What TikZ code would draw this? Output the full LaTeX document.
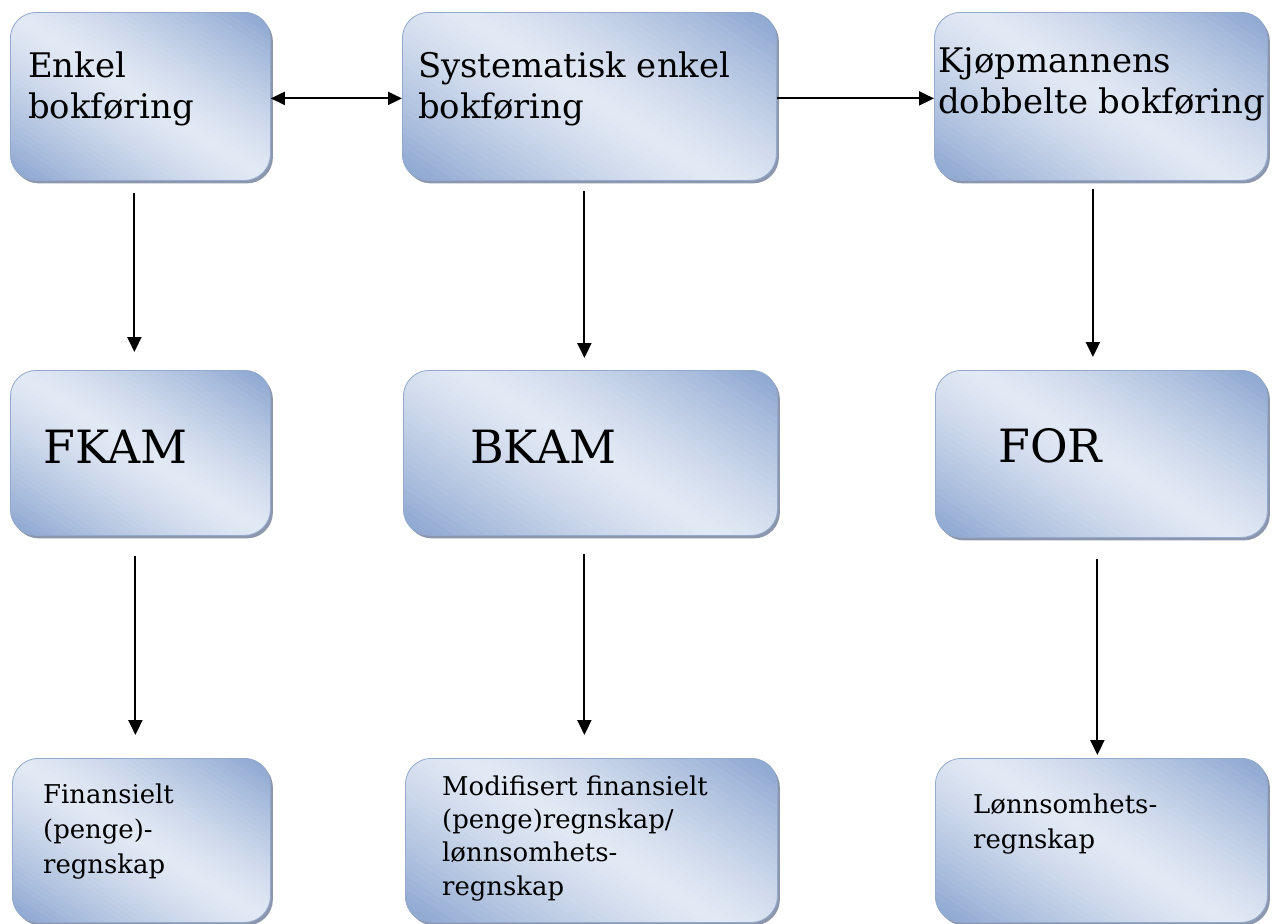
\documentclass[tikz,border=0pt]{standalone}
\usepackage{fontspec}
\setmainfont{DejaVu Serif}
\usetikzlibrary{arrows.meta}

\definecolor{boxblue}{RGB}{136,163,207}
\definecolor{boxlight}{RGB}{226,233,244}
\definecolor{boxedge}{RGB}{148,170,205}
\definecolor{boxshadow}{RGB}{140,150,172}

% diagonal blue-light-blue gradient, built from thin slanted strips;
% u is the gradient axis (towards the upper right), d runs along a strip
\newcommand{\stagegradient}{%
  \pgfpointdiff{\pgfpointanchor{path picture bounding box}{south west}}%
               {\pgfpointanchor{path picture bounding box}{north east}}%
  \pgfgetlastxy{\stagew}{\stageh}%
  \pgfmathsetmacro\stageext{0.5*(\stagew*0.545+\stageh*0.839)}%
  \pgfmathsetmacro\stagestep{2*\stageext/60}%
  \begin{scope}[x=1pt, y=1pt, shift={(path picture bounding box.center)}]
    \foreach \k in {0,...,59}{%
      \pgfmathsetmacro\ylo{-\stageext+\k*\stagestep}%
      \pgfmathsetmacro\yhi{\ylo+\stagestep+0.6}%
      \pgfmathsetmacro\mixv{100*(abs(2*(\k+0.5)/60-1))^1.3}%
      \pgfmathsetmacro\pax{\ylo*0.545-260*0.839}\pgfmathsetmacro\pay{\ylo*0.839+260*0.545}%
      \pgfmathsetmacro\pbx{\ylo*0.545+260*0.839}\pgfmathsetmacro\pby{\ylo*0.839-260*0.545}%
      \pgfmathsetmacro\pcx{\yhi*0.545+260*0.839}\pgfmathsetmacro\pcy{\yhi*0.839-260*0.545}%
      \pgfmathsetmacro\pdx{\yhi*0.545-260*0.839}\pgfmathsetmacro\pdy{\yhi*0.839+260*0.545}%
      \fill[boxblue!\mixv!boxlight] (\pax,\pay) -- (\pbx,\pby) -- (\pcx,\pcy) -- (\pdx,\pdy) -- cycle;
    }
  \end{scope}%
}

\tikzset{
  stage/.style={
    rectangle, rounded corners=26bp, inner sep=0pt, anchor=north west,
    draw=boxedge, line width=0.8bp, fill=boxblue,
    preaction={fill=boxshadow, transform canvas={xshift=2.5bp, yshift=-3bp}},
    path picture={\stagegradient}
  },
  headtext/.style={anchor=base west, inner sep=0pt, align=left,
                   font=\fontsize{34}{41}\selectfont},
  bigtext/.style={anchor=base west, inner sep=0pt,
                  font=\fontsize{46}{50}\selectfont},
  smalltext/.style={anchor=base west, inner sep=0pt, align=left,
                    font=\fontsize{26}{34}\selectfont},
  arr/.style={line width=2bp, -{Triangle[length=15bp,width=14bp]}},
  darr/.style={line width=2bp, {Triangle[length=14bp,width=13bp]}-{Triangle[length=14bp,width=13bp]}}
}

\begin{document}
\begin{tikzpicture}[x=1bp,y=-1bp]
\useasboundingbox (0,0) rectangle (1273,924);

% top row: bookkeeping methods
\node[stage, minimum width=260bp, minimum height=168bp] (A) at (10,12) {};
\node[stage, minimum width=374bp, minimum height=168bp] (B) at (402,12) {};
\node[stage, minimum width=333bp, minimum height=168bp] (C) at (934,12) {};

% middle row: models
\node[stage, minimum width=260bp, minimum height=165bp] (D) at (10,370) {};
\node[stage, minimum width=374bp, minimum height=165bp] (E) at (403,370) {};
\node[stage, minimum width=332bp, minimum height=167bp] (F) at (935,370) {};

% bottom row: kinds of accounts
\node[stage, minimum width=258bp, minimum height=164bp] (G) at (12,758) {};
\node[stage, minimum width=372bp, minimum height=164bp] (H) at (405,758) {};
\node[stage, minimum width=332bp, minimum height=164bp] (I) at (935,758) {};

% labels (multi-line labels are placed by the baseline of their last line)
\node[headtext] (tA) at (28,118) {Enkel\\bokføring};
\node[headtext] (tB) at (418,118) {Systematisk enkel\\bokføring};
\node[headtext] (tC) at (938,113) {Kjøpmannens\\dobbelte bokføring};

\node[bigtext] (tD) at (43,463) {FKAM};
\node[bigtext] (tE) at (470,463) {BKAM};
\node[bigtext] (tF) at (998,462) {FOR};

\node[smalltext, font=\fontsize{26}{35}\selectfont] (tG) at (43,873) {Finansielt\\(penge)-\\regnskap};
\node[smalltext, font=\fontsize{26}{33.3}\selectfont] (tH) at (442,895) {Modifisert finansielt\\(penge)regnskap/\\lønnsomhets-\\regnskap};
\node[smalltext, font=\fontsize{26}{35}\selectfont] (tI) at (973,848) {Lønnsomhets-\\regnskap};

% horizontal connections
\draw[darr] ([yshift=-2bp]A.east) -- ([yshift=-2bp]B.west);
\draw[arr] ([yshift=-2bp]B.east) -- ([yshift=-2bp]C.west);

% vertical connections, top to middle
\draw[arr, shorten <=12bp, shorten >=18bp] ([xshift=-6bp]A.south) -- ([xshift=-6bp]A.south |- D.north);
\draw[arr, shorten <=10bp, shorten >=12bp] ([xshift=-5bp]B.south) -- ([xshift=-5bp]B.south |- E.north);
\draw[arr, shorten <=8bp, shorten >=13bp] ([xshift=-8bp]C.south) -- ([xshift=-8bp]C.south |- F.north);

% vertical connections, middle to bottom
\draw[arr, shorten <=20bp, shorten >=23bp] ([xshift=-5bp]D.south) -- ([xshift=-5bp]D.south |- G.north);
\draw[arr, shorten <=18bp, shorten >=23bp] ([xshift=-6bp]E.south) -- ([xshift=-6bp]E.south |- H.north);
\draw[arr, shorten <=21bp, shorten >=3bp] ([xshift=-4bp]F.south) -- ([xshift=-4bp]F.south |- I.north);
\end{tikzpicture}
\end{document}
